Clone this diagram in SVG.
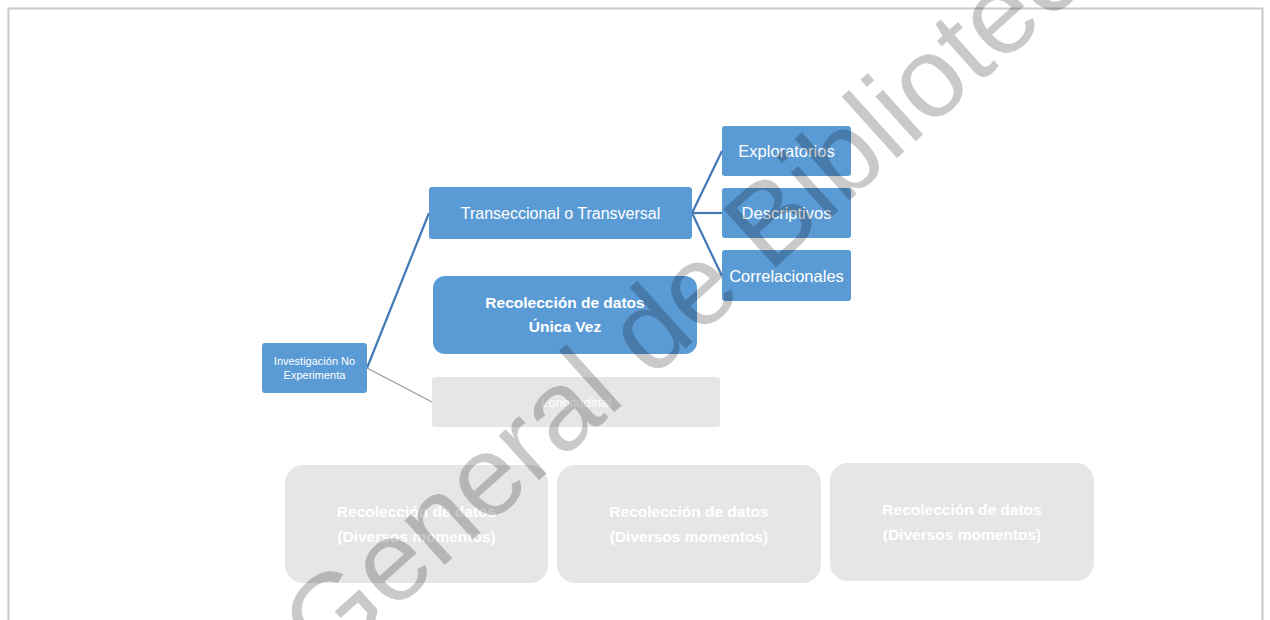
<svg xmlns="http://www.w3.org/2000/svg" width="1270" height="620" viewBox="0 0 1270 620">
<style>
.blue{fill:#5b9bd5}
.grey{fill:#e6e6e6}
.t{font-family:"Liberation Sans",Arial,sans-serif;fill:#ffffff;text-anchor:middle}
.b{font-weight:bold}
.c1{stroke:#4278b5;stroke-width:2.2;fill:none}
.c2{stroke:#9a9a9a;stroke-width:1.2;fill:none}
.wm{font-family:"Liberation Sans",Arial,sans-serif;font-size:114px;fill:#000;fill-opacity:0.21}
</style>
<rect x="0" y="0" width="1270" height="620" fill="#ffffff"/>
<g id="frame" fill="none" stroke="#cacaca" stroke-width="2">
<path d="M8.5 630 V8.5 H1262.5 V630"/>
</g>
<g id="connectors">
<line class="c1" x1="367" y1="368" x2="429" y2="213"/>
<line class="c2" x1="367" y1="368" x2="432" y2="402"/>
<line class="c1" x1="692" y1="213" x2="722" y2="151"/>
<line class="c1" x1="692" y1="213" x2="722" y2="213"/>
<line class="c1" x1="692" y1="213" x2="722" y2="276"/>
</g>
<g id="n-investigacion">
<rect class="blue" x="262" y="343" width="105" height="50" rx="3"/>
<text class="t" x="314.5" y="365" font-size="11">Investigación No</text>
<text class="t" x="314.5" y="379" font-size="11">Experimenta</text>
</g>
<g id="n-transeccional">
<rect class="blue" x="429" y="187" width="263" height="52" rx="3"/>
<text class="t" x="560.5" y="219" font-size="16">Transeccional o Transversal</text>
</g>
<g id="n-exploratorios">
<rect class="blue" x="722" y="126" width="129" height="50" rx="3"/>
<text class="t" x="786.5" y="157" font-size="16.5">Exploratorios</text>
</g>
<g id="n-descriptivos">
<rect class="blue" x="722" y="188" width="129" height="50" rx="3"/>
<text class="t" x="786.5" y="219" font-size="16.5">Descriptivos</text>
</g>
<g id="n-correlacionales">
<rect class="blue" x="722" y="250" width="129" height="51" rx="3"/>
<text class="t" x="786.5" y="282" font-size="16.5">Correlacionales</text>
</g>
<g id="n-unica">
<rect class="blue" x="433" y="276" width="264" height="78" rx="12"/>
<text class="t b" x="565" y="308" font-size="15.5">Recolección de datos</text>
<text class="t b" x="565" y="332" font-size="15.5">Única Vez</text>
</g>
<g id="n-longitudinal">
<rect class="grey" x="432" y="377" width="288" height="50" rx="3"/>
<text class="t" x="576" y="407" font-size="13">Longitudinal</text>
</g>
<g id="n-diversos1">
<rect class="grey" x="285" y="465" width="263" height="118" rx="18"/>
<text class="t b" x="416.5" y="517" font-size="15.5">Recolección de datos</text>
<text class="t b" x="416.5" y="542" font-size="15.5">(Diversos momentos)</text>
</g>
<g id="n-diversos2">
<rect class="grey" x="557" y="465" width="264" height="118" rx="18"/>
<text class="t b" x="689" y="517" font-size="15.5">Recolección de datos</text>
<text class="t b" x="689" y="542" font-size="15.5">(Diversos momentos)</text>
</g>
<g id="n-diversos3">
<rect class="grey" x="830" y="463" width="264" height="118" rx="18"/>
<text class="t b" x="962" y="515" font-size="15.5">Recolección de datos</text>
<text class="t b" x="962" y="540" font-size="15.5">(Diversos momentos)</text>
</g>
<g id="watermark">
<text class="wm" transform="translate(326 672) rotate(-42)">General de Bibliotec</text>
</g>
</svg>
